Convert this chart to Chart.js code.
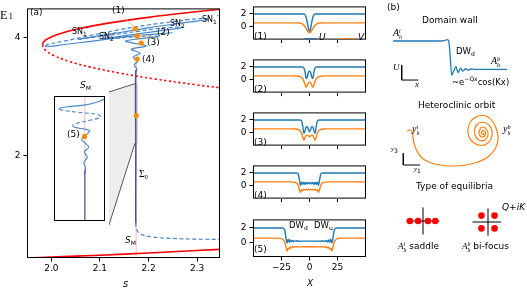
<!DOCTYPE html>
<html>
<head>
<meta charset="utf-8">
<script src="https://cdn.jsdelivr.net/npm/chart.js@4.4.1/dist/chart.umd.min.js"></script>
<style>
  body { margin: 0; background: #fff; }
  #fig { position: relative; width: 527px; height: 288px; overflow: hidden; background: #fff; font-family: 'DejaVu Sans', sans-serif; }
  #fig canvas { position: absolute; }
  .t { position: absolute; font-size: 9px; line-height: 1; white-space: nowrap; color: #000; }
  .m { font-family: 'Liberation Serif', serif; font-style: italic; }
  .i { font-style: italic; }
  .sb { font-size: 6px; vertical-align: -2px; }
  .sp { font-size: 6px; vertical-align: 4px; }
  .st { display: inline-flex; flex-direction: column; font-size: 6px; line-height: 5.5px; vertical-align: 3px; font-family: 'Liberation Serif', serif; font-style: italic; }
</style>
</head>
<body>
<div id="fig"></div>
<script>
// ---- panel (a): bifurcation diagram E1 vs s ----
const sTicks = [2.0, 2.1, 2.2, 2.3];
const eTicks = [2, 4];

// homogeneous states (red)
const redUpperS = [1.982, 1.9836, 1.9902, 2.0112, 2.0556, 2.1203, 2.2051, 2.2875, 2.347];
const redUpperE = [3.88, 3.92, 3.97, 4.05, 4.15, 4.25, 4.35, 4.43, 4.482];
const redMidS = [1.982, 1.9831, 1.9889, 2.0042, 2.0357, 2.0809, 2.1398, 2.2124, 2.2987, 2.347];
const redMidE = [3.88, 3.84, 3.78, 3.70, 3.60, 3.50, 3.40, 3.30, 3.20, 3.15];
const redLowS = [1.95, 2.05, 2.15, 2.25, 2.347];
const redLowE = [0.265, 0.295, 0.33, 0.37, 0.41];

// localized branch (blue), 1 = stable (solid), 0 = unstable (dashed)
const branchS = [2.2496, 2.199, 2.138, 2.0775, 2.027, 1.9966, 1.9875, 1.9966, 2.027, 2.0775, 2.138, 2.199, 2.2597,
  2.300, 2.3225, 2.3063, 2.2597, 2.199, 2.138, 2.0877, 2.0553, 2.0775, 2.128, 2.1787, 2.2293, 2.2719, 2.2293, 2.1787,
  2.138, 2.1059, 2.138, 2.1787, 2.2213, 2.1889, 2.1524, 2.1787, 2.195, 2.1646, 2.1828, 2.1686, 2.1777, 2.1706, 2.1757,
  2.1731, 2.1737, 2.1737, 2.1767, 2.1868, 2.2091, 2.2496, 2.3002, 2.3468];
const branchE = [4.083, 4.050, 4.000, 3.934, 3.884, 3.851, 3.860, 3.893, 3.942, 4.033, 4.132, 4.215, 4.281,
  4.321, 4.314, 4.289, 4.240, 4.165, 4.083, 4.017, 3.970, 3.995, 4.050, 4.107, 4.165, 4.174, 4.124, 4.066,
  4.017, 3.980, 3.990, 4.020, 4.020, 3.987, 3.942, 3.893, 3.860, 3.802, 3.736, 3.670, 3.603, 3.537, 3.471,
  3.372, 2.050, 0.860, 0.727, 0.661, 0.620, 0.595, 0.584, 0.579];
const branchStable = [1,1,1,1,1,1, 0,0,0,0,0,0,0,0, 1,1,1,1,1,1, 0,0,0,0,0, 1,1,1,1, 0,0,0,
  1,1,1,1,1,1,1,1,1,1,1,1,1, 0,0,0,0,0,0,0];

const sigma0S = [2.1737, 2.1737];
const sigma0E = [3.45, 0.86];
const sMaxwellS = [2.1745, 2.1745];
const sMaxwellE = [0.264, 3.6];

// marked solutions (1)-(4) and the one inside the zoom
const markS = [2.1727, 2.1767, 2.1848, 2.1767, 2.1747];
const markE = [4.149, 4.025, 3.909, 3.636, 2.678];

// zoomed window shown in the inset
const zoomS = [2.172, 2.178];
const zoomE = [2.21, 3.22];

// inset branch
const insetS = [2.178, 2.17708, 2.17573, 2.17403, 2.17281, 2.17261, 2.17322, 2.17505, 2.17726, 2.17749, 2.17637,
  2.17434, 2.17424, 2.17485, 2.17617, 2.17607, 2.17559, 2.17525, 2.17566, 2.17607, 2.17556, 2.17592, 2.17551,
  2.17569, 2.17563];
const insetE = [3.197, 3.171, 3.148, 3.136, 3.125, 3.114, 3.102, 3.087, 3.068, 3.049, 3.026,
  2.992, 2.973, 2.962, 2.943, 2.924, 2.893, 2.867, 2.840, 2.806, 2.768, 2.726, 2.681,
  2.643, 2.590];
const insetStable = [1,1,1,1,1, 0,0,0,0,0,0,0, 1,1,1,1,1,1,1,1,1,1,1,1,1];
const insetMarkS = [2.17559];
const insetMarkE = [2.893];

// ---- middle column: profiles U, V vs X ----
const xTicksProfile = [-25, 0, 25];
const yTicksProfile = [0, 2];
const X1 = [-50,-12,-9,-7,-6,-5,-4,-3,-2,-1,0,1,2,3,4,5,6,7,9,12,50];
const U1 = [1.95,1.95,1.95,1.95,1.95,1.94,1.85,1.45,0.7,-0.25,-0.7,-0.25,0.7,1.45,1.85,1.94,1.95,1.95,1.95,1.95,1.95];
const V1 = [0.6,0.6,0.58,0.5,0.4,0.25,0.05,-0.25,-0.55,-0.8,-0.85,-0.8,-0.55,-0.25,0.05,0.25,0.4,0.5,0.58,0.6,0.6];
const X2 = [-50,-14,-10,-8,-7,-6,-5,-4,-3,-2,-1,0,1,2,3,4,5,6,7,8,10,14,50];
const U2 = [1.95,1.95,1.95,1.95,1.95,1.93,1.8,1.2,0.2,0.45,1.1,1.3,1.1,0.45,0.2,1.2,1.8,1.93,1.95,1.95,1.95,1.95,1.95];
const V2 = [0.6,0.6,0.55,0.45,0.35,0.15,-0.2,-0.7,-1.1,-0.85,-0.45,-0.35,-0.45,-0.85,-1.1,-0.7,-0.2,0.15,0.35,0.45,0.55,0.6,0.6];
const X3 = [-50,-16,-12,-10,-9,-8,-7,-6,-5,-4,-3,-2,-1,0,1,2,3,4,5,6,7,8,9,10,12,16,50];
const U3 = [1.95,1.95,1.95,1.95,1.95,1.93,1.75,1.0,-0.05,0.3,0.9,0.95,0.5,0.15,0.5,0.95,0.9,0.3,-0.05,1.0,1.75,1.93,1.95,1.95,1.95,1.95,1.95];
const V3 = [0.6,0.6,0.58,0.5,0.42,0.25,-0.1,-0.7,-1.1,-0.75,-0.4,-0.35,-0.45,-0.55,-0.45,-0.35,-0.4,-0.75,-1.1,-0.7,-0.1,0.25,0.42,0.5,0.58,0.6,0.6];
const X4 = [-50,-18,-14,-12,-11,-10,-9,-8,-7,-6,-5,-4,-3,-2,-1,0,1,2,3,4,5,6,7,8,9,10,11,12,14,18,50];
const U4 = [1.95,1.95,1.95,1.95,1.93,1.75,0.9,0.1,0.55,0.25,0.5,0.25,0.5,0.3,0.5,0.3,0.5,0.3,0.5,0.25,0.5,0.25,0.55,0.1,0.9,1.75,1.93,1.95,1.95,1.95,1.95];
const V4 = [0.6,0.6,0.57,0.48,0.35,0.05,-0.55,-1.0,-0.6,-0.7,-0.5,-0.65,-0.5,-0.6,-0.5,-0.6,-0.5,-0.6,-0.5,-0.65,-0.5,-0.7,-0.6,-1.0,-0.55,0.05,0.35,0.48,0.57,0.6,0.6];
const X5 = [-50,-30,-26,-24,-23,-22,-21,-20,-19,-18,-17,-16,-15,-14,-12,-10,-5,0,5,10,12,14,15,16,17,18,19,20,21,22,23,24,26,30,50];
const U5 = [1.95,1.95,1.95,1.95,1.9,1.6,0.6,-0.05,0.45,0.05,0.35,0.1,0.3,0.15,0.25,0.18,0.2,0.2,0.2,0.18,0.25,0.15,0.3,0.1,0.35,0.05,0.45,-0.05,0.6,1.6,1.9,1.95,1.95,1.95,1.95];
const V5 = [0.6,0.6,0.56,0.45,0.3,0.0,-0.6,-1.15,-0.75,-0.85,-0.6,-0.7,-0.55,-0.62,-0.55,-0.58,-0.56,-0.56,-0.56,-0.58,-0.55,-0.62,-0.55,-0.7,-0.6,-0.85,-0.75,-1.15,-0.6,0.0,0.3,0.45,0.56,0.6,0.6];

// ---- panel (b): sketches ----
const dwX = [3, 50, 55, 57.5, 59, 60.3, 61.7, 63.8, 66, 68, 70.5, 73, 75.5, 78, 81, 85, 117];
const dwU = [1.0, 1.0, 1.02, 1.05, 0.95, 0.4, -0.21, -0.05, 0.09, -0.12, 0.04, -0.06, 0.02, -0.03, 0.01, 0.0, 0.0];
const orbY1 = [7,10,12.5,13,14,17,22,30,40,53,66,78,88,95,98,97,93,86,78,71,68,69,74,81,88,92,91,86,79,75,75,79,85,88,87,83,79.5,79.5,83,85.5,84.5,82,81.5,83.5,83.5];
const orbY3 = [39,40,38,33,27,19,12,7.5,5,4,5,8,13,21,30,39,48,54,54,49,41,33,27,24.5,27,34,42,47,47,42,35,30,30,35,40,43,40,35,33,36,39,39,36.5,35.5,37.5];
const saddleRe = [-0.8, -0.3, 0.3, 0.75];
const saddleIm = [0, 0, 0, 0];
const focusRe = [-0.4, 0.4, -0.4, 0.4];
const focusIm = [0.4, 0.4, -0.4, -0.4];

// ---------------------------------------------------------------
Chart.defaults.font.family = "'DejaVu Sans', sans-serif";
Chart.defaults.font.size = 9;
Chart.defaults.color = '#000';
Chart.defaults.animation = false;
Chart.defaults.responsive = false;
Chart.defaults.devicePixelRatio = 1;
Chart.defaults.plugins.legend.display = false;
Chart.defaults.plugins.tooltip.enabled = false;
Chart.defaults.elements.point.radius = 0;

const fig = document.getElementById('fig');
const pts = (xs, ys) => xs.map((x, i) => ({ x, y: ys[i] }));

function addCanvas(left, top, w, h) {
  const c = document.createElement('canvas');
  c.width = w; c.height = h;
  c.style.left = left + 'px'; c.style.top = top + 'px';
  c.style.width = w + 'px'; c.style.height = h + 'px';
  fig.appendChild(c);
  return c.getContext('2d');
}

// black box round the plot area
const frame = {
  id: 'frame',
  afterDatasetsDraw(chart) {
    const a = chart.chartArea, ctx = chart.ctx;
    ctx.save();
    ctx.strokeStyle = '#000';
    ctx.lineWidth = 1;
    ctx.strokeRect(a.left + 0.5, a.top + 0.5, a.right - a.left - 1, a.bottom - a.top - 1);
    ctx.restore();
  }
};
const whiteBg = {
  id: 'whiteBg',
  beforeDraw(chart) {
    chart.ctx.save();
    chart.ctx.fillStyle = '#fff';
    chart.ctx.fillRect(0, 0, chart.width, chart.height);
    chart.ctx.restore();
  }
};

const inset = { left: 50, top: 92, w: 59, h: 133 };

// grey connector between zoom window and inset
const zoomLink = {
  id: 'zoomLink',
  beforeDatasetsDraw(chart) {
    const { ctx, scales: { x, y } } = chart;
    const x0 = x.getPixelForValue(zoomS[0]), x1 = x.getPixelForValue(zoomS[1]);
    const yT = y.getPixelForValue(zoomE[1]), yB = y.getPixelForValue(zoomE[0]);
    const ix = inset.left + inset.w, iT = inset.top, iB = inset.top + inset.h;
    ctx.save();
    ctx.fillStyle = '#ededed';
    ctx.beginPath();
    ctx.moveTo(ix, iT); ctx.lineTo(x0, yT); ctx.lineTo(x1, yT);
    ctx.lineTo(x1, yB); ctx.lineTo(x0, yB); ctx.lineTo(ix, iB);
    ctx.closePath(); ctx.fill();
    ctx.fillStyle = '#d6d6d6';
    ctx.fillRect(x0, yT, x1 - x0, yB - yT);
    ctx.strokeStyle = '#444';
    ctx.lineWidth = 0.9;
    ctx.beginPath();
    ctx.moveTo(ix, iT); ctx.lineTo(x0, yT);
    ctx.moveTo(ix, iB); ctx.lineTo(x0, yB);
    ctx.stroke();
    ctx.restore();
  }
};

const tickGrid = { drawOnChartArea: false, drawTicks: true, tickLength: 3.5, color: '#000', lineWidth: 1 };
const minus = v => String(v).replace('-', '\u2212');

const BLUE_A = '#4585cc';
const blueDash = [4, 2.5];

// ---- panel (a) ----
new Chart(addCanvas(0, 0, 224, 275), {
  type: 'scatter',
  data: {
    datasets: [
      { data: pts(markS, markE), pointRadius: 2.6, backgroundColor: '#ff8c00', borderWidth: 0 },
      { data: [{ x: 2.1484, y: 4.347 }, { x: 2.1707, y: 4.182 }], showLine: true, borderColor: '#f6b26b', borderWidth: 0.8 },
      { data: [{ x: 2.2111, y: 4.017 }, { x: 2.1808, y: 4.041 }], showLine: true, borderColor: '#f6b26b', borderWidth: 0.8 },
      { data: pts(sigma0S, sigma0E), showLine: true, borderColor: '#4b4b94', borderWidth: 1.2 },
      {
        data: pts(branchS, branchE), showLine: true, borderColor: BLUE_A, borderWidth: 1.2, tension: 0.4,
        segment: { borderDash: c => branchStable[c.p0DataIndex] ? undefined : blueDash }
      },
      { data: pts(redUpperS, redUpperE), showLine: true, borderColor: '#ff0000', borderWidth: 1.6, tension: 0.4 },
      { data: pts(redMidS, redMidE), showLine: true, borderColor: '#ff0000', borderWidth: 1.6, tension: 0.4, borderDash: [2.2, 2.6] },
      { data: pts(redLowS, redLowE), showLine: true, borderColor: '#ff0000', borderWidth: 1.6, tension: 0.4 },
      { data: pts(sMaxwellS, sMaxwellE), showLine: true, borderColor: '#ffb3b3', borderWidth: 1 }
    ]
  },
  options: {
    layout: { padding: { top: 2, right: 0, left: 0, bottom: 0 } },
    scales: {
      x: {
        type: 'linear', min: 1.95, max: 2.347,
        afterBuildTicks: s => { s.ticks = sTicks.map(v => ({ value: v })); },
        afterFit: s => { s.height = 17; },
        ticks: { padding: 2, maxRotation: 0, autoSkip: false, callback: v => v.toFixed(1) },
        grid: tickGrid, border: { display: false }
      },
      y: {
        type: 'linear', min: 0.264, max: 4.496,
        afterBuildTicks: s => { s.ticks = eTicks.map(v => ({ value: v })); },
        afterFit: s => { s.width = 27; },
        ticks: { padding: 3 },
        grid: tickGrid, border: { display: false }
      }
    }
  },
  plugins: [zoomLink, frame]
});

// ---- inset ----
new Chart(addCanvas(inset.left, inset.top, inset.w, inset.h), {
  type: 'scatter',
  data: {
    datasets: [
      { data: pts(insetMarkS, insetMarkE), pointRadius: 2.6, backgroundColor: '#ff8c00', borderWidth: 0 },
      { data: [{ x: 2.17563, y: 2.62 }, { x: 2.17563, y: 2.21 }], showLine: true, borderColor: '#4b4b94', borderWidth: 1.1 },
      {
        data: pts(insetS, insetE), showLine: true, borderColor: BLUE_A, borderWidth: 1.1, tension: 0.4,
        segment: { borderDash: c => insetStable[c.p0DataIndex] ? undefined : blueDash }
      },
      { data: [{ x: 2.17563, y: 2.21 }, { x: 2.17563, y: 3.22 }], showLine: true, borderColor: '#ffb3b3', borderWidth: 1 }
    ]
  },
  options: {
    layout: { padding: 0 },
    scales: {
      x: { type: 'linear', display: false, min: zoomS[0], max: zoomS[1] },
      y: { type: 'linear', display: false, min: zoomE[0], max: zoomE[1] }
    }
  },
  plugins: [whiteBg, frame]
});

// ---- middle column ----
const profX = [X1, X2, X3, X4, X5];
const profU = [U1, U2, U3, U4, U5];
const profV = [V1, V2, V3, V4, V5];
const panelTops = [-1, 52, 105, 158, 212];

panelTops.forEach((T, i) => {
  const last = i === panelTops.length - 1;
  const xh = last ? 17 : 4;
  new Chart(addCanvas(240, T - 1, 126, 46 + xh), {
    type: 'scatter',
    data: {
      datasets: [
        { data: pts(profX[i], profV[i]), showLine: true, borderColor: '#ff7f0e', borderWidth: 1.4, cubicInterpolationMode: 'monotone' },
        { data: pts(profX[i], profU[i]), showLine: true, borderColor: '#1f77b4', borderWidth: 1.4, cubicInterpolationMode: 'monotone' }
      ]
    },
    options: {
      layout: { padding: { top: 1, left: 0, right: 0, bottom: 0 } },
      scales: {
        x: {
          type: 'linear', min: -50.5, max: 50.5,
          afterBuildTicks: s => { s.ticks = xTicksProfile.map(v => ({ value: v })); },
          afterFit: s => { s.height = xh; },
          ticks: { display: last, padding: 2, maxRotation: 0, autoSkip: false, callback: minus },
          grid: tickGrid, border: { display: false }
        },
        y: {
          type: 'linear', min: -1.93, max: 3.1,
          afterBuildTicks: s => { s.ticks = yTicksProfile.map(v => ({ value: v })); },
          afterFit: s => { s.width = 13; },
          ticks: { padding: 3 },
          grid: tickGrid, border: { display: false }
        }
      }
    },
    plugins: [frame]
  });
});

// ---- panel (b) sketches ----
const hidden = (min, max) => ({ type: 'linear', display: false, min, max });
const black = { showLine: true, borderColor: '#000', borderWidth: 1 };

new Chart(addCanvas(390, 35, 120, 49), {
  type: 'scatter',
  data: {
    datasets: [
      { data: pts(dwX, dwU), showLine: true, borderColor: '#1f77b4', borderWidth: 1.3, cubicInterpolationMode: 'monotone' },
      { data: [{ x: 11.7, y: 0.15 }, { x: 11.7, y: -0.38 }, { x: 28.3, y: -0.38 }], ...black }
    ]
  },
  options: { layout: { padding: 0 }, scales: { x: hidden(0, 120), y: hidden(-0.52, 1.212) } }
});

new Chart(addCanvas(395, 105, 125, 65), {
  type: 'scatter',
  data: {
    datasets: [
      { data: pts(orbY1, orbY3), showLine: true, borderColor: '#ff7f0e', borderWidth: 1.2, tension: 0.4 },
      { data: [{ x: 3.3, y: 16.7 }, { x: 3.3, y: 5 }, { x: 20, y: 5 }], ...black }
    ]
  },
  options: { layout: { padding: 0 }, scales: { x: hidden(-5, 120), y: hidden(0, 65) } }
});

function eqChart(left, top, re, im, hx) {
  new Chart(addCanvas(left, top, 44, 40), {
    type: 'scatter',
    data: {
      datasets: [
        { data: pts(re, im), pointRadius: 3.3, backgroundColor: '#ff0000', borderWidth: 0 },
        { data: [{ x: hx[0], y: 0 }, { x: hx[1], y: 0 }], ...black },
        { data: [{ x: 0, y: -0.85 }, { x: 0, y: 0.85 }], ...black }
      ]
    },
    options: { layout: { padding: 0 }, scales: { x: hidden(-1.1, 1.1), y: hidden(-1, 1) } }
  });
}
eqChart(401, 201, saddleRe, saddleIm, [-1, 1]);
eqChart(466, 202, focusRe, focusIm, [-0.95, 0.8]);

// ---- text ----
const hb = (base, sup, sub) =>
  `<span class="m">${base}</span><span class="st"><span>${sup}</span><span>${sub}</span></span>`;
const serif = "font-family:'Liberation Serif',serif;";
const texts = [
  [`<span style="${serif}font-size:12px">E</span>`, 0, 8.5],
  [`<span style="${serif}font-size:9px">1</span>`, 8.5, 11.5],
  ['(a)', 30, 8],
  ['(1)', 112, 6], ['(2)', 157, 28], ['(3)', 147, 38], ['(4)', 142, 55], ['(5)', 67, 130],
  ['SN<span class="sb">1</span>′', 72, 28, 8], ['SN<span class="sb">2</span>′', 99, 33, 8],
  ['SN<span class="sb">2</span>′', 170, 20, 8], ['SN<span class="sb">1</span>′', 202, 16, 8],
  ['<span class="i">S</span><span class="sb">M</span>', 80, 81], ['<span class="i">S</span><span class="sb">M</span>', 125, 236],
  [`<span style="${serif}font-size:10px">Σ<span class="sb">0</span></span>`, 139, 169],
  ['<span class="i">s</span>', 123, 279, 10],
  ['<span class="i">U</span>', 319, 33], ['<span class="i">V</span>', 358, 33],
  ['DW<span class="sb">d</span>', 289, 221, 8.5], ['DW<span class="sb">u</span>', 314, 221, 8.5],
  ['<span class="i">X</span>', 307, 279],
  ['(b)', 387, 3], ['Domain wall', 422, 16],
  [hb('A', 't', 'h'), 393, 28, 10], ['DW<span class="sb">d</span>', 456, 47, 8.5], [hb('A', 'b', 'h'), 491, 56, 10],
  ['~e<span class="sp">−Qx</span>cos(Kx)', 452, 76, 8.5],
  ['<span class="m">U</span>', 393, 63], ['<span class="m">x</span>', 415, 80],
  ['Heteroclinic orbit', 418, 101],
  [hb('y', 't', 'h'), 412, 124, 10], [hb('y', 'b', 'h'), 503, 124, 10],
  ['<span class="m">y</span><span class="sb">3</span>', 391, 146, 7], ['<span class="m">y</span><span class="sb">1</span>', 414, 166, 7],
  ['Type of equilibria', 416, 182],
  ['<span class="i">Q</span>+<span class="i">iK</span>', 502, 203],
  [hb('A', 't', 'h') + ' saddle', 398, 242], [hb('A', 'b', 'h') + ' bi-focus', 462, 242]
];
panelTops.forEach((T, i) => texts.push([`(${i + 1})`, 254, T + 33]));

texts.forEach(([html, left, top, size]) => {
  const d = document.createElement('div');
  d.className = 't';
  d.innerHTML = html;
  d.style.left = left + 'px';
  d.style.top = top + 'px';
  if (size) d.style.fontSize = size + 'px';
  fig.appendChild(d);
});

// legend handles in profile (1)
[[304, 13, '#1f77b4'], [340, 15, '#ff7f0e']].forEach(([left, w, col]) => {
  const d = document.createElement('div');
  d.style.cssText = `position:absolute;left:${left}px;top:37.5px;width:${w}px;height:1.5px;background:${col}`;
  fig.appendChild(d);
});
</script>
</body>
</html>
